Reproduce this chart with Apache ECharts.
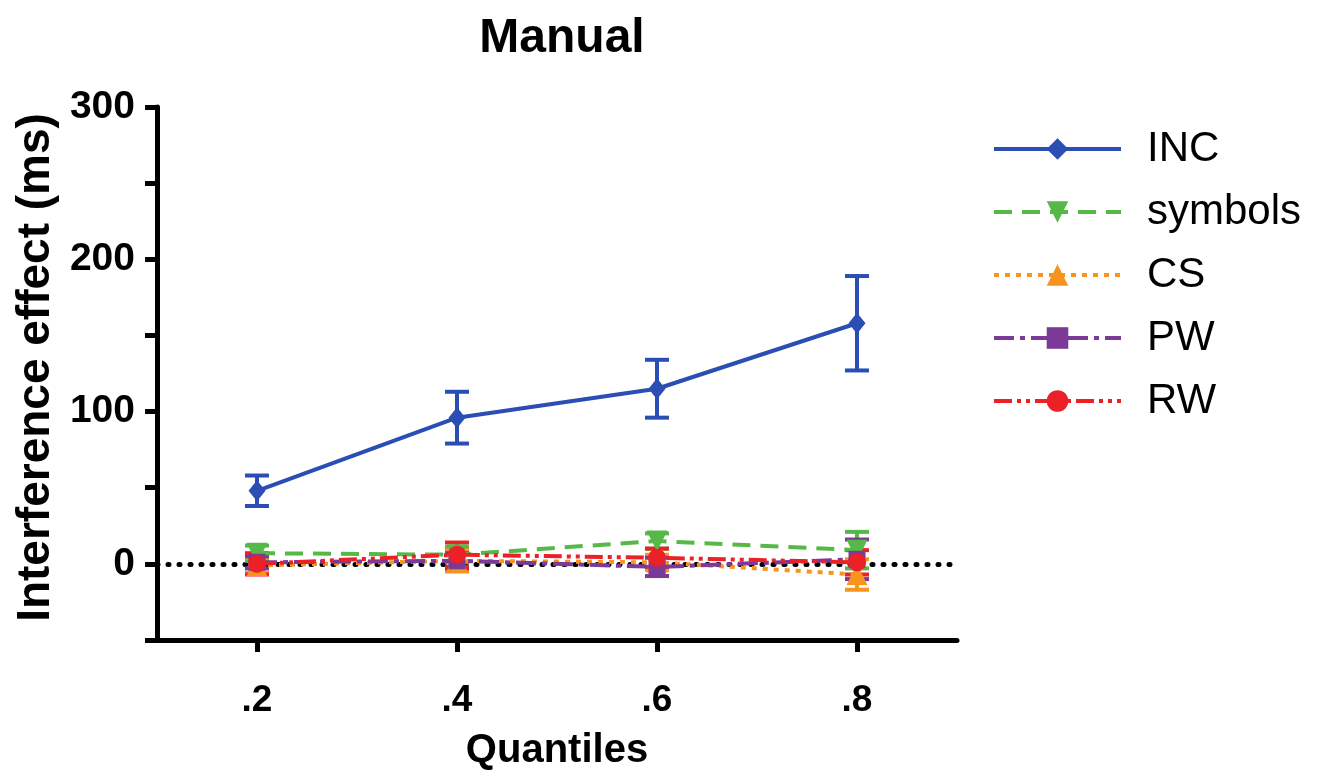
<!DOCTYPE html>
<html>
<head>
<meta charset="utf-8">
<script src="https://cdn.jsdelivr.net/npm/echarts@6/dist/echarts.min.js"></script>
<style>html,body{margin:0;padding:0;background:#fff;}#c{width:1331px;height:776px;}</style>
</head>
<body>
<div id="c"></div>
<script>
const quantiles = [0.2, 0.4, 0.6, 0.8];
const xTickLabels = ['.2', '.4', '.6', '.8'];
const yTickLabels = [0, 100, 200, 300];
const seriesNames = ['INC', 'symbols', 'CS', 'PW', 'RW'];
const incMean = [48, 96, 115, 158];
const incErr = [10, 17, 19, 31];
const symbolsMean = [7, 6, 15, 9];
const symbolsErr = [5, 5, 5, 12];
const csMean = [-1, 2, 1, -7];
const csErr = [5, 7, 5, 10];
const pwMean = [1, 2, -2, 3];
const pwErr = [4, 5, 6, 13];
const rwMean = [0, 6, 4, 1];
const rwErr = [7, 8, 6, 8];

const colors = ['#2A4EB3', '#55B847', '#F7941E', '#7B3A97', '#EC2027'];
const means = [incMean, symbolsMean, csMean, pwMean, rwMean];
const errs = [incErr, symbolsErr, csErr, pwErr, rwErr];
const dashTypes = ['solid', [18, 10], [5, 6], [20, 6, 5, 6], [18, 5, 4, 5, 4, 5]];
const symbols = ['diamond', 'triangle', 'triangle', 'rect', 'circle'];
const symbolRot = [0, 180, 0, 0, 0];
const symbolSizes = [[17, 21], 21, 21, 17, 18];

const FONT = 'Liberation Sans, Arial, sans-serif';
const chart = echarts.init(document.getElementById('c'));
const series = [];
// error bars
seriesNames.forEach((name, i) => {
  series.push({
    type: 'custom',
    name: name + ' err',
    z: 2 + i,
    silent: true,
    data: quantiles.map((q, j) => [q, means[i][j] - errs[i][j], means[i][j] + errs[i][j]]),
    renderItem: function (params, api) {
      const x = api.value(0);
      const p1 = api.coord([x, api.value(1)]);
      const p2 = api.coord([x, api.value(2)]);
      const hw = 12;
      const style = { stroke: colors[i], lineWidth: 4 };
      return {
        type: 'group',
        children: [
          { type: 'line', shape: { x1: p1[0], y1: p1[1], x2: p2[0], y2: p2[1] }, style: style },
          { type: 'line', shape: { x1: p1[0] - hw, y1: p1[1], x2: p1[0] + hw, y2: p1[1] }, style: style },
          { type: 'line', shape: { x1: p2[0] - hw, y1: p2[1], x2: p2[0] + hw, y2: p2[1] }, style: style }
        ]
      };
    }
  });
});
seriesNames.forEach((name, i) => {
  const s = {
    type: 'line',
    name: name,
    z: 10 + (i === 0 ? 10 : i),
    data: quantiles.map((q, j) => [q, means[i][j]]),
    symbol: symbols[i],
    symbolSize: symbolSizes[i],
    symbolRotate: symbolRot[i],
    showAllSymbol: true,
    lineStyle: { color: colors[i], width: 4, type: dashTypes[i] },
    itemStyle: { color: colors[i] },
    emphasis: { disabled: true }
  };
  if (i === 0) {
    s.markLine = {
      silent: true,
      symbol: 'none',
      label: { show: false },
      lineStyle: { color: '#000', type: [1, 10], cap: 'round', width: 5 },
      data: [{ yAxis: 0 }],
      z: 1
    };
  }
  series.push(s);
});

chart.setOption({
  animation: false,
  title: {
    text: 'Manual',
    left: 557,
    textAlign: 'center',
    top: 10,
    textStyle: { fontFamily: FONT, fontWeight: 'bold', fontSize: 48, color: '#000' }
  },
  legend: {
    data: seriesNames,
    orient: 'vertical',
    left: 992,
    top: 128,
    padding: 0,
    itemWidth: 127,
    itemHeight: 27,
    itemGap: 21,
    lineStyle: { width: 4 },
    textStyle: { fontFamily: FONT, fontSize: 42, color: '#000', lineHeight: 40, padding: [0, 0, 0, 21] }
  },
  grid: { left: 157, right: 374, top: 107, bottom: 132, containLabel: false },
  xAxis: {
    type: 'value',
    min: 0.1,
    max: 0.9,
    name: 'Quantiles',
    nameLocation: 'middle',
    nameGap: 91,
    nameTextStyle: { fontFamily: FONT, fontWeight: 'bold', fontSize: 40, color: '#000' },
    axisLine: { show: true, onZero: false, lineStyle: { color: '#000', width: 5 } },
    axisTick: { show: true, customValues: quantiles, length: 12, lineStyle: { color: '#000', width: 5 } },
    axisLabel: {
      customValues: quantiles,
      formatter: function (v) { const k = quantiles.findIndex(q => Math.abs(q - v) < 1e-6); return k >= 0 ? xTickLabels[k] : ''; },
      margin: 42,
      fontFamily: FONT, fontWeight: 'bold', fontSize: 37, color: '#000'
    },
    splitLine: { show: false }
  },
  yAxis: {
    type: 'value',
    min: -50,
    max: 300,
    name: 'Interference effect (ms)',
    nameLocation: 'middle',
    nameGap: 91,
    nameTextStyle: { fontFamily: FONT, fontWeight: 'bold', fontSize: 46, color: '#000', padding: [0, 0, 0, 12] },
    axisLine: { show: true, onZero: false, lineStyle: { color: '#000', width: 5 } },
    axisTick: { show: true, customValues: [-50, 0, 50, 100, 150, 200, 250, 300], length: 12, lineStyle: { color: '#000', width: 5 } },
    axisLabel: {
      customValues: yTickLabels,
      formatter: function (v) { return String(v); },
      margin: 22,
      fontFamily: FONT, fontWeight: 'bold', fontSize: 39, color: '#000'
    },
    splitLine: { show: false }
  },
  series: series
});
</script>
</body>
</html>
